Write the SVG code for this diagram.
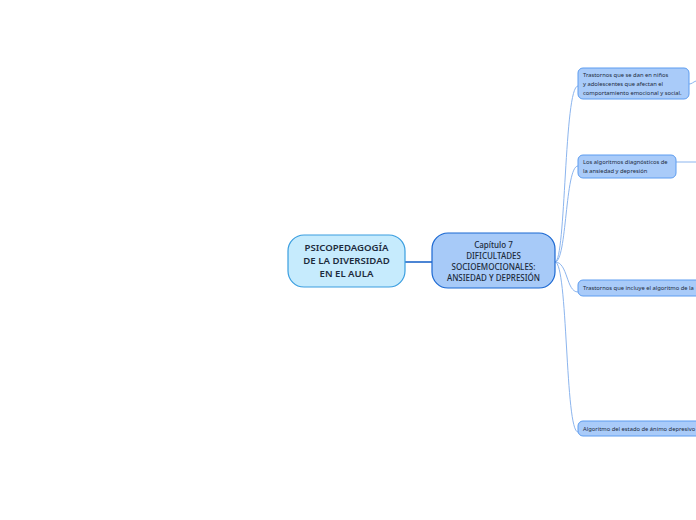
<svg xmlns="http://www.w3.org/2000/svg" width="696" height="520" viewBox="0 0 696 520">
<style>
.root{fill:#c6ebfd;stroke:#3a9ee0;stroke-width:1.2}
.chap{fill:#a7caf8;stroke:#1b68d2;stroke-width:1.2}
.sub{fill:#a9cbf9;stroke:#5c9cf0;stroke-width:1}
.t{font-family:"Noto Sans","Open Sans",sans-serif;fill:#1c2a3c}
.rt{font-size:9.6px;font-weight:600;text-anchor:middle}
.ct{font-size:8px;font-weight:500;text-anchor:middle}
.st{font-size:5.8px}
.con{fill:none;stroke:#8cb5ee;stroke-width:1}
</style>
<rect width="696" height="520" fill="#ffffff"/>
<g id="connectors">
<path d="M405,262 L432,262" fill="none" stroke="#1f66c9" stroke-width="1.6"/>
<path class="con" d="M555,262 C566,262 564,86 578,86"/>
<path class="con" d="M555,262 C567,262 565,166 578,166"/>
<path class="con" d="M555,262 C568,262 566,292 578,292"/>
<path class="con" d="M555,262 C568,262 565,432 578,432"/>
<path class="con" d="M689,84 C692,84 693,82 696,81"/>
<path class="con" d="M676,162 L696,162"/>
</g>
<g id="root">
<rect class="root" x="288" y="235" width="117" height="52" rx="16"/>
<text class="t rt" x="346.5" y="251">PSICOPEDAGOGÍA</text>
<text class="t rt" x="346.5" y="264">DE LA DIVERSIDAD</text>
<text class="t rt" x="346.5" y="277">EN EL AULA</text>
</g>
<g id="chapter">
<rect class="chap" x="432" y="233" width="123" height="55" rx="16"/>
<text class="t ct" x="493.5" y="248">Capítulo 7</text>
<text class="t ct" x="493.5" y="259">DIFICULTADES</text>
<text class="t ct" x="493.5" y="270">SOCIOEMOCIONALES:</text>
<text class="t ct" x="493.5" y="281">ANSIEDAD Y DEPRESIÓN</text>
</g>
<g id="n1">
<rect class="sub" x="578" y="68" width="111" height="31" rx="5"/>
<text class="t st" x="583" y="77">Trastornos que se dan en niños</text>
<text class="t st" x="583" y="86">y adolescentes que afectan el</text>
<text class="t st" x="583" y="95">comportamiento emocional y social.</text>
</g>
<g id="n2">
<rect class="sub" x="578" y="155" width="98" height="23" rx="5"/>
<text class="t st" x="583" y="164">Los algoritmos diagnósticos de</text>
<text class="t st" x="583" y="173">la ansiedad y depresión</text>
</g>
<g id="n3">
<rect class="sub" x="578" y="280" width="140" height="16" rx="5"/>
<text class="t st" x="583" y="290">Trastornos que incluye el algoritmo de la</text>
</g>
<g id="n4">
<rect class="sub" x="578" y="421" width="140" height="15" rx="5"/>
<text class="t st" x="583" y="431">Algoritmo del estado de ánimo depresivo</text>
</g>
</svg>
